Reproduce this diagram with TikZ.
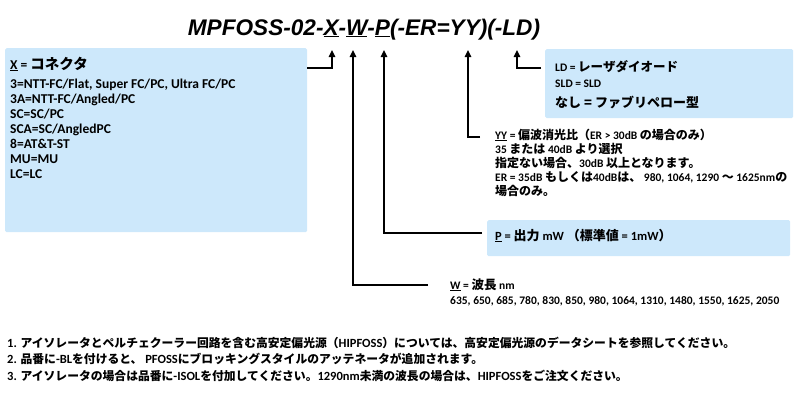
\documentclass[tikz,border=0pt]{standalone}
\usepackage{fontspec}
\setmainfont{Carlito}
\newfontfamily\jp{Noto Sans CJK JP}
\newfontfamily\titlefont{Liberation Sans}
\usetikzlibrary{arrows.meta}
\definecolor{boxblue}{RGB}{205,232,251}
\newcommand\J[2][12.5]{{\jp\fontsize{#1}{#1}\selectfont #2}}
\tikzset{
  conn/.style={line width=1.3pt, -{Triangle[length=7pt,width=6.5pt]}},
  bluebox/.style={fill=boxblue, draw=none, inner sep=0pt, anchor=north west, rounded corners=1.5pt},
  lt/.style={inner sep=0pt, anchor=base west, font=\bfseries\fontsize{11.5}{13}\selectfont},
  xt/.style={inner sep=0pt, anchor=base west, font=\bfseries\fontsize{13.5}{15}\selectfont},
  nt/.style={inner sep=0pt, anchor=base west, font=\bfseries\fontsize{12.5}{13}\selectfont},
}
\begin{document}
\begin{tikzpicture}[x=1pt,y=-1pt]
\useasboundingbox (0,0) rectangle (800,400);
% title
\node[inner sep=0pt, anchor=base, font=\titlefont\bfseries\itshape\fontsize{22.6}{24}\selectfont] (title) at (364,35)
  {MPFOSS-02-\underline{X}-\underline{W}-\underline{P}(-ER=YY)(-LD)};
% boxes
\node[bluebox, minimum width=302pt, minimum height=184pt] (xbox) at (5,48) {};
\node[bluebox, minimum width=248pt, minimum height=69pt] (ldbox) at (545,49) {};
\node[bluebox, minimum width=303pt, minimum height=36pt] (pbox) at (487,220) {};
% X box text
\node[xt] (x0) at (10,69) {\underline{X} = \J[14.5]{コネクタ}};
\node[xt] (x1) at (10,88) {3=NTT-FC/Flat, Super FC/PC, Ultra FC/PC};
\node[xt] (x2) at (10,103) {3A=NTT-FC/Angled/PC};
\node[xt] (x3) at (10,118) {SC=SC/PC};
\node[xt] (x4) at (10,133) {SCA=SC/AngledPC};
\node[xt] (x5) at (10,148) {8=AT\&T-ST};
\node[xt] (x6) at (10,163) {MU=MU};
\node[xt] (x7) at (10,178) {LC=LC};
% LD box text
\node[lt] (ld1) at (555,71) {LD = \J[12.5]{レーザダイオード}};
\node[lt] (ld2) at (555,87) {SLD = SLD};
\node[lt] (ld3) at (555,107) {\J[13]{なし = ファブリペロー型}};
% YY text
\node[lt] (y1) at (495,139) {\underline{YY} = \J[12]{偏波消光比（}ER > 30dB \J[12]{の場合のみ）}};
\node[lt] (y2) at (495,153) {35 \J[12]{または} 40dB \J[12]{より選択}};
\node[lt] (y3) at (495,167) {\J[12]{指定ない場合、}30dB \J[12]{以上となります。}};
\node[lt] (y4) at (495,181) {ER = 35dB \J[12]{もしくは}40dB\J[12]{は、} 980, 1064, 1290 \J[12]{～} 1625nm\J[12]{の}};
\node[lt] (y5) at (495,195) {\J[12]{場合のみ。}};
% P text
\node[lt, font=\bfseries\fontsize{12.5}{13}\selectfont] (p1) at (495,240) {\underline{P} = \J[13]{出力} mW \J[13]{（標準値} = 1mW\J[13]{）}};
% W text
\node[lt] (w1) at (450,289) {\underline{W} = \J[12.5]{波長} nm};
\node[lt] (w2) at (450,304) {635, 650, 685, 780, 830, 850, 980, 1064, 1310, 1480, 1550, 1625, 2050};
% notes
\node[nt] (n1) at (7,347) {1. \J[11.8]{アイソレータとペルチェクーラー回路を含む高安定偏光源（}HIPFOSS\J[11.8]{）については、高安定偏光源のデータシートを参照してください。}};
\node[nt] (n2) at (7,363) {2. \J[11.8]{品番に}-BL\J[11.8]{を付けると、} PFOSS\J[11.8]{にブロッキングスタイルのアッテネータが追加されます。}};
\node[nt] (n3) at (7,380) {3. \J[11.8]{アイソレータの場合は品番に}-ISOL\J[11.8]{を付加してください。}1290nm\J[11.8]{未満の波長の場合は、}HIPFOSS\J[11.8]{をご注文ください。}};
% arrow targets and connector starts
\coordinate (tX) at (332,50);
\coordinate (tW) at (353,50);
\coordinate (tP) at (384,50);
\coordinate (tY) at (468,50);
\coordinate (tL) at (517,50);
\coordinate (sX) at (307,68);
\coordinate (sW) at (428,285);
\coordinate (sP) at (482,233);
\coordinate (sY) at (480,137);
\coordinate (sL) at (541,68);
\draw[conn] (sX) -| (tX);
\draw[conn] (sW) -| (tW);
\draw[conn] (sP) -| (tP);
\draw[conn] (sY) -| (tY);
\draw[conn] (sL) -| (tL);
\end{tikzpicture}
\end{document}
